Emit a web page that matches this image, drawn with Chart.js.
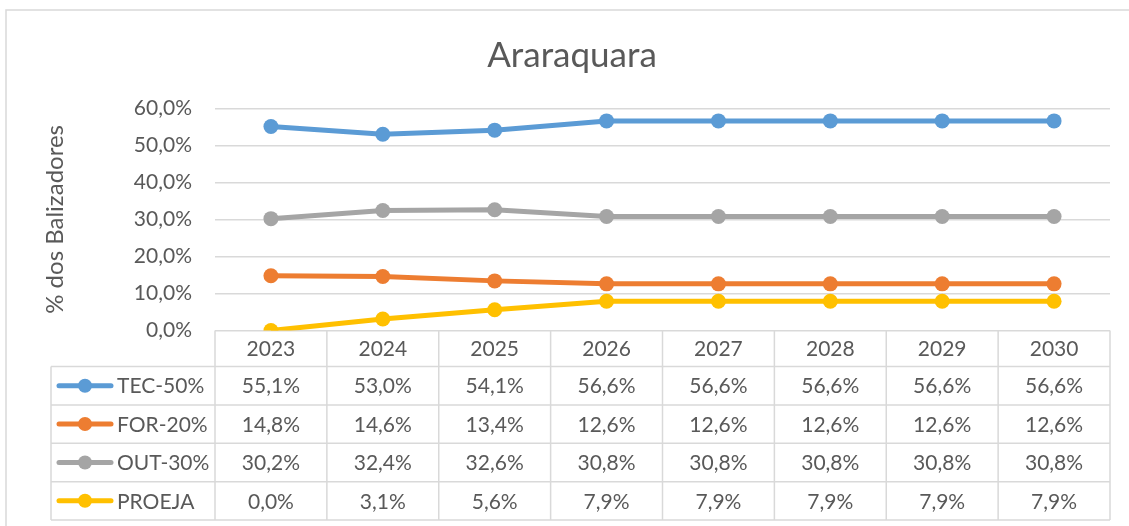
<!DOCTYPE html>
<html>
<head>
<meta charset="utf-8">
<script src="https://cdn.jsdelivr.net/npm/chart.js@4.4.1/dist/chart.umd.min.js"></script>
<style>
html,body{margin:0;padding:0;background:#fff;}
canvas{display:block;}
</style>
</head>
<body>
<canvas id="c" width="1129" height="526"></canvas>
<script>
const categories = ['2023','2024','2025','2026','2027','2028','2029','2030'];
const tec    = [55.1, 53.0, 54.1, 56.6, 56.6, 56.6, 56.6, 56.6];
const forv   = [14.8, 14.6, 13.4, 12.6, 12.6, 12.6, 12.6, 12.6];
const outv   = [30.2, 32.4, 32.6, 30.8, 30.8, 30.8, 30.8, 30.8];
const proeja = [0.0, 3.1, 5.6, 7.9, 7.9, 7.9, 7.9, 7.9];
const seriesNames = ['TEC-50%','FOR-20%','OUT-30%','PROEJA'];
const seriesColors = ['#5B9BD5','#ED7D31','#A5A5A5','#FFC000'];
const yTicks = [0,10,20,30,40,50,60];

const FONT = 'Lato';
const TEXT = '#595959';
const GRID = '#D9D9D9';
const fmt = v => v.toFixed(1).replace('.', ',') + '%';

const tablePlugin = {
  id: 'dataTable',
  beforeDraw(chart) {
    const ctx = chart.ctx;
    ctx.save();
    ctx.fillStyle = '#fff';
    ctx.fillRect(0,0,chart.width,chart.height);
    ctx.strokeStyle = GRID;
    ctx.lineWidth = 1.5;
    ctx.beginPath();
    ctx.moveTo(6, chart.height + 5);
    ctx.lineTo(6, 10);
    ctx.lineTo(chart.width + 5, 10);
    ctx.stroke();
    ctx.restore();
  },
  afterDraw(chart) {
    const ctx = chart.ctx;
    const xs = chart.scales.x;
    const area = chart.chartArea;
    const n = categories.length;
    const w = (area.right - area.left) / n;
    const headerBottom = xs.bottom;
    const tableBottom = 520;
    const rowH = (tableBottom - headerBottom) / 4;
    const legendLeft = 51;
    ctx.save();
    ctx.strokeStyle = GRID;
    ctx.lineWidth = 1.5;
    ctx.beginPath();
    for (let i = 0; i < n; i++) {
      const xb = xs.getPixelForValue(i) - w / 2;
      ctx.moveTo(xb, area.bottom);
      ctx.lineTo(xb, tableBottom);
    }
    const xr = xs.getPixelForValue(n - 1) + w / 2;
    ctx.moveTo(xr, area.bottom);
    ctx.lineTo(xr, tableBottom);
    ctx.moveTo(legendLeft, headerBottom);
    ctx.lineTo(legendLeft, tableBottom);
    for (let r = 0; r <= 4; r++) {
      const y = headerBottom + r * rowH;
      ctx.moveTo(legendLeft, y);
      ctx.lineTo(xr, y);
    }
    ctx.stroke();

    ctx.font = '21px ' + FONT;
    ctx.fillStyle = TEXT;
    ctx.textBaseline = 'middle';
    chart.data.datasets.forEach((ds, r) => {
      const cy = headerBottom + (r + 0.5) * rowH;
      ctx.strokeStyle = ds.borderColor;
      ctx.lineWidth = 5;
      ctx.lineCap = 'round';
      ctx.beginPath();
      ctx.moveTo(59, cy);
      ctx.lineTo(111, cy);
      ctx.stroke();
      ctx.fillStyle = ds.borderColor;
      ctx.beginPath();
      ctx.arc(85, cy, 7, 0, Math.PI * 2);
      ctx.fill();
      ctx.fillStyle = TEXT;
      ctx.textAlign = 'left';
      ctx.fillText(seriesNames[r], 117, cy + 1);
      ctx.textAlign = 'center';
      ds.data.forEach((v, i) => {
        ctx.fillText(fmt(v), xs.getPixelForValue(i), cy + 1);
      });
    });
    ctx.restore();
  }
};

const datasets = [tec, forv, outv, proeja].map((d, i) => ({
  label: seriesNames[i],
  data: d,
  borderColor: seriesColors[i],
  backgroundColor: seriesColors[i],
  pointBackgroundColor: seriesColors[i],
  pointBorderWidth: 0,
  pointRadius: 7.5,
  borderWidth: 5,
  tension: 0,
  fill: false
}));

new Chart(document.getElementById('c'), {
  type: 'line',
  data: { labels: categories, datasets },
  plugins: [tablePlugin],
  options: {
    responsive: false,
    devicePixelRatio: 1,
    animation: false,
    layout: { padding: { top: 0, left: 34, right: 19, bottom: 159.5 } },
    plugins: {
      legend: { display: false },
      tooltip: { enabled: false },
      title: {
        display: true,
        text: 'Araraquara',
        color: TEXT,
        font: { family: FONT, size: 35, weight: 'normal' },
        padding: { top: 35, bottom: 31.3 }
      }
    },
    scales: {
      x: {
        offset: true,
        grid: { display: false, drawTicks: false },
        border: { display: false },
        ticks: { color: TEXT, font: { family: FONT, size: 21 }, padding: 6 },
        afterFit: s => { s.height = 36; }
      },
      y: {
        min: 0, max: 60,
        afterBuildTicks: s => { s.ticks = yTicks.map(v => ({ value: v })); },
        grid: { color: GRID, lineWidth: 1.5, drawTicks: false },
        border: { display: false },
        ticks: { color: TEXT, font: { family: FONT, size: 21 }, padding: 23,
                 callback: v => v.toFixed(1).replace('.', ',') + '%' },
        title: { display: true, text: '% dos Balizadores', color: TEXT,
                 font: { family: FONT, size: 24, weight: 'normal' }, padding: { top: 7, bottom: 0 } },
        afterFit: s => { s.width = 181; }
      }
    }
  }
});
</script>
</body>
</html>
